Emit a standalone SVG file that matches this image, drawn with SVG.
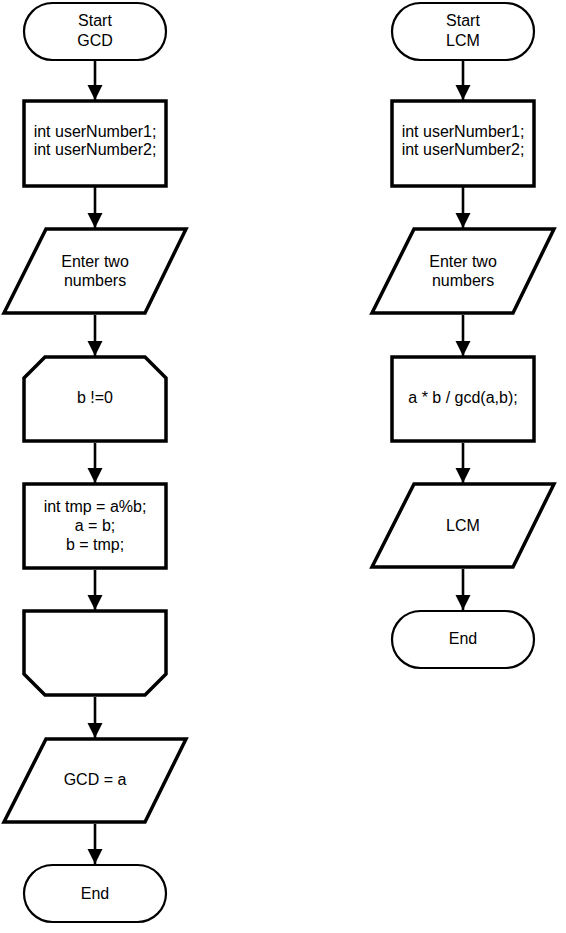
<svg xmlns="http://www.w3.org/2000/svg" width="566" height="933" viewBox="0 0 566 933">
  <style>
    .term { fill: #fff; stroke: #000; stroke-width: 2.2; }
    .box { fill: #fff; stroke: #000; stroke-width: 3.5; stroke-linejoin: miter; }
    .lbl { font-family: "Liberation Sans", Arial, sans-serif; font-size: 16px; fill: #000; text-anchor: middle; }
    .edge { stroke: #000; stroke-width: 2.6; fill: none; }
  </style>
  <defs>
    <marker id="arrow" markerUnits="userSpaceOnUse" markerWidth="16" markerHeight="16" viewBox="0 0 16 16" refX="15" refY="8" orient="auto">
      <path d="M0,0.5 L15,8 L0,15.5 Z" fill="#000"/>
    </marker>
  </defs>
  <rect width="566" height="933" fill="#fff"/>

  <!-- GCD flow -->
  <g id="gcd-start">
    <rect class="term" x="24" y="3" width="142" height="57" rx="28.5"/>
    <text class="lbl" x="95" y="26">Start</text>
    <text class="lbl" x="95" y="45.5">GCD</text>
  </g>
  <g id="gcd-declare">
    <rect class="box" x="24" y="101" width="142" height="85"/>
    <text class="lbl" x="95" y="137">int userNumber1;</text>
    <text class="lbl" x="95" y="155">int userNumber2;</text>
  </g>
  <g id="gcd-input">
    <polygon class="box" points="46,229 186,229 145,313 4,313"/>
    <text class="lbl" x="95" y="267">Enter two</text>
    <text class="lbl" x="95" y="286">numbers</text>
  </g>
  <g id="gcd-loop-start">
    <polygon class="box" points="45,357 145,357 166,378 166,441 24,441 24,378"/>
    <text class="lbl" x="95" y="403">b !=0</text>
  </g>
  <g id="gcd-loop-body">
    <rect class="box" x="24" y="484" width="142" height="84"/>
    <text class="lbl" x="95" y="512">int tmp = a%b;</text>
    <text class="lbl" x="95" y="531">a = b;</text>
    <text class="lbl" x="95" y="550">b = tmp;</text>
  </g>
  <g id="gcd-loop-end">
    <polygon class="box" points="24,611 166,611 166,674 145,695 45,695 24,674"/>
  </g>
  <g id="gcd-output">
    <polygon class="box" points="46,739 186,739 145,822 4,822"/>
    <text class="lbl" x="95" y="785">GCD = a</text>
  </g>
  <g id="gcd-end">
    <rect class="term" x="24" y="865" width="142" height="57" rx="28.5"/>
    <text class="lbl" x="95" y="899">End</text>
  </g>

  <!-- LCM flow -->
  <g id="lcm-start">
    <rect class="term" x="392" y="3" width="142" height="57" rx="28.5"/>
    <text class="lbl" x="463" y="26">Start</text>
    <text class="lbl" x="463" y="45.5">LCM</text>
  </g>
  <g id="lcm-declare">
    <rect class="box" x="392" y="101" width="142" height="85"/>
    <text class="lbl" x="463" y="137">int userNumber1;</text>
    <text class="lbl" x="463" y="155">int userNumber2;</text>
  </g>
  <g id="lcm-input">
    <polygon class="box" points="414,229 554,229 513,313 372,313"/>
    <text class="lbl" x="463" y="267">Enter two</text>
    <text class="lbl" x="463" y="286">numbers</text>
  </g>
  <g id="lcm-compute">
    <rect class="box" x="392" y="357" width="142" height="84"/>
    <text class="lbl" x="463" y="403">a * b / gcd(a,b);</text>
  </g>
  <g id="lcm-output">
    <polygon class="box" points="414,484 554,484 513,567 372,567"/>
    <text class="lbl" x="463" y="531">LCM</text>
  </g>
  <g id="lcm-end">
    <rect class="term" x="392" y="611" width="142" height="57" rx="28.5"/>
    <text class="lbl" x="463" y="644">End</text>
  </g>

  <!-- connectors -->
  <g id="connectors">
    <line class="edge" x1="95" y1="61" x2="95" y2="100" marker-end="url(#arrow)"/>
    <line class="edge" x1="95" y1="187" x2="95" y2="228" marker-end="url(#arrow)"/>
    <line class="edge" x1="95" y1="315" x2="95" y2="356" marker-end="url(#arrow)"/>
    <line class="edge" x1="95" y1="443" x2="95" y2="483" marker-end="url(#arrow)"/>
    <line class="edge" x1="95" y1="570" x2="95" y2="610" marker-end="url(#arrow)"/>
    <line class="edge" x1="95" y1="697" x2="95" y2="738" marker-end="url(#arrow)"/>
    <line class="edge" x1="95" y1="824" x2="95" y2="864" marker-end="url(#arrow)"/>

    <line class="edge" x1="463" y1="61" x2="463" y2="100" marker-end="url(#arrow)"/>
    <line class="edge" x1="463" y1="187" x2="463" y2="228" marker-end="url(#arrow)"/>
    <line class="edge" x1="463" y1="315" x2="463" y2="356" marker-end="url(#arrow)"/>
    <line class="edge" x1="463" y1="443" x2="463" y2="483" marker-end="url(#arrow)"/>
    <line class="edge" x1="463" y1="569" x2="463" y2="610" marker-end="url(#arrow)"/>
  </g>
</svg>
